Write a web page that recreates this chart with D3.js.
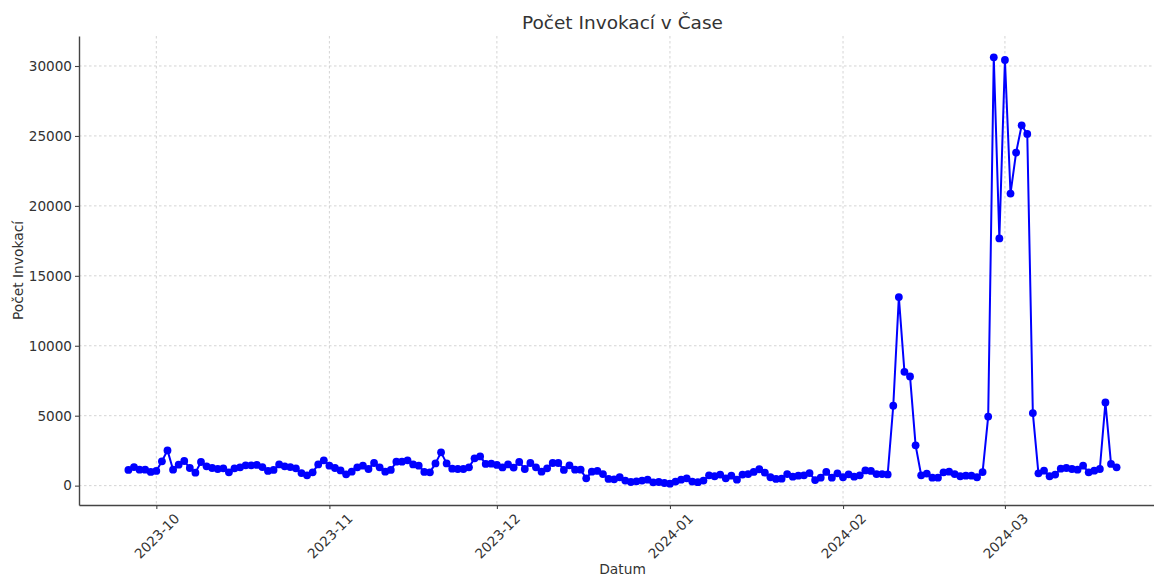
<!DOCTYPE html>
<html lang="cs">
<head>
<meta charset="UTF-8">
<title>Počet Invokací v Čase</title>
<script src="https://d3js.org/d3.v7.min.js"></script>
<style>
  body { margin: 0; background: #fff; }
  svg { display: block; font-family: "DejaVu Sans", sans-serif; }
</style>
</head>
<body>
<svg id="chart" width="1154" height="576"></svg>
<script>
// denní počty invokací, po měsících (první den = startDay)
var startDay = "2023-09-26";
var sep23 = [1120, 1330, 1140, 1140, 980];
var oct23 = [1050, 1740, 2520, 1140, 1500, 1760, 1260, 930, 1690, 1380, 1260, 1190, 1240, 950, 1240, 1310,
             1450, 1450, 1480, 1330, 1050, 1120, 1520, 1380, 1330, 1240, 900, 740, 950, 1520, 1810];
var nov23 = [1430, 1260, 1090, 810, 1000, 1310, 1430, 1190, 1620, 1310, 1000, 1120, 1710, 1710, 1810,
             1520, 1430, 980, 950, 1590, 2380, 1590, 1210, 1190, 1190, 1310, 1950, 2090, 1550, 1570];
var dec23 = [1480, 1300, 1520, 1290, 1690, 1190, 1620, 1310, 1000, 1240, 1620, 1620, 1120, 1450, 1140, 1140,
             520, 1000, 1050, 830, 480, 450, 600, 360, 260, 310, 360, 430, 240, 260, 190];
var jan24 = [140, 290, 430, 520, 290, 250, 360, 740, 670, 790, 520, 710, 430, 790, 830, 980,
             1170, 930, 600, 480, 500, 830, 640, 710, 740, 900, 400, 570, 980, 570, 880];
var feb24 = [600, 810, 640, 740, 1090, 1050, 830, 830, 800, 5710, 13480, 8140, 7810, 2880, 740,
             860, 570, 570, 950, 1000, 830, 670, 710, 710, 600, 970, 4940, 30620, 17670];
var mar24 = [30430, 20880, 23810, 25760, 25140, 5190, 880, 1070, 670, 790, 1210, 1260, 1190, 1140, 1430,
             950, 1070, 1190, 5950, 1550, 1310];

var monthTicks = ["2023-10", "2023-11", "2023-12", "2024-01", "2024-02", "2024-03"];
var yTicks = [0, 5000, 10000, 15000, 20000, 25000, 30000];

var values = [].concat(sep23, oct23, nov23, dec23, jan24, feb24, mar24);
var parseDay = d3.timeParse("%Y-%m-%d");
var parseMonth = d3.timeParse("%Y-%m");
var t0 = parseDay(startDay);
var data = values.map(function (v, i) {
    return { date: d3.timeDay.offset(t0, i), value: v };
});

var svg = d3.select('#chart');
var textColor = '#333';

// 5 % okraj jako v matplotlibu
var xExt = d3.extent(data, function (d) { return d.date; });
var xPad = (xExt[1] - xExt[0]) * 0.05;
var x = d3.scaleTime()
    .domain([new Date(+xExt[0] - xPad), new Date(+xExt[1] + xPad)])
    .range([79, 1166]);

var yExt = d3.extent(values);
var yPad = (yExt[1] - yExt[0]) * 0.05;
var y = d3.scaleLinear()
    .domain([yExt[0] - yPad, yExt[1] + yPad])
    .range([505, 36]);

var xTickDates = monthTicks.map(parseMonth);

// mřížka
var grid = svg.append('g').attr('stroke', '#cfcfcf').attr('stroke-width', 0.9)
    .attr('stroke-dasharray', '2.5,2.5');
grid.selectAll('.gx').data(xTickDates).enter().append('line')
    .attr('x1', function (d) { return x(d); }).attr('x2', function (d) { return x(d); })
    .attr('y1', 36).attr('y2', 505);
grid.selectAll('.gy').data(yTicks).enter().append('line')
    .attr('x1', 79).attr('x2', 1166)
    .attr('y1', function (d) { return y(d); }).attr('y2', function (d) { return y(d); });

// osy
var xAxis = svg.append('g')
    .attr('transform', 'translate(0,505)')
    .call(d3.axisBottom(x).tickValues(xTickDates).tickFormat(d3.timeFormat('%Y-%m'))
        .tickSize(4).tickSizeOuter(0).tickPadding(3));
xAxis.selectAll('text')
    .attr('font-size', 13.6).attr('fill', textColor)
    .attr('text-anchor', 'middle')
    .attr('dy', null).attr('y', null)
    .attr('dominant-baseline', 'central')
    .attr('transform', 'translate(0,31) rotate(-45)');

var yAxis = svg.append('g')
    .attr('transform', 'translate(79,0)')
    .call(d3.axisLeft(y).tickValues(yTicks).tickFormat(d3.format('d'))
        .tickSize(4).tickSizeOuter(0).tickPadding(3));
yAxis.selectAll('text').attr('font-size', 13.6).attr('fill', textColor);

svg.selectAll('.domain').attr('stroke', '#444').attr('stroke-width', 1.4);
svg.selectAll('.tick line').attr('stroke', '#444').attr('stroke-width', 1.1);
svg.selectAll('.tick text').attr('font-family', '"DejaVu Sans", sans-serif');

// data
var line = d3.line()
    .x(function (d) { return x(d.date); })
    .y(function (d) { return y(d.value); });

svg.append('path')
    .datum(data)
    .attr('fill', 'none')
    .attr('stroke', '#0000ff')
    .attr('stroke-width', 2)
    .attr('stroke-linejoin', 'round')
    .attr('d', line);

svg.append('g').selectAll('circle')
    .data(data)
    .enter()
    .append('circle')
    .attr('cx', function (d) { return x(d.date); })
    .attr('cy', function (d) { return y(d.value); })
    .attr('r', 3.9)
    .attr('fill', '#0000ff');

// popisky
svg.append('text')
    .attr('x', 622.5).attr('y', 29)
    .attr('text-anchor', 'middle')
    .attr('font-size', 18.5).attr('fill', textColor)
    .text('Počet Invokací v Čase');

svg.append('text')
    .attr('x', 622.5).attr('y', 574)
    .attr('text-anchor', 'middle')
    .attr('font-size', 13.8).attr('fill', textColor)
    .text('Datum');

svg.append('text')
    .attr('transform', 'translate(23,270.5) rotate(-90)')
    .attr('text-anchor', 'middle')
    .attr('font-size', 13.8).attr('fill', textColor)
    .text('Počet Invokací');
</script>
</body>
</html>
